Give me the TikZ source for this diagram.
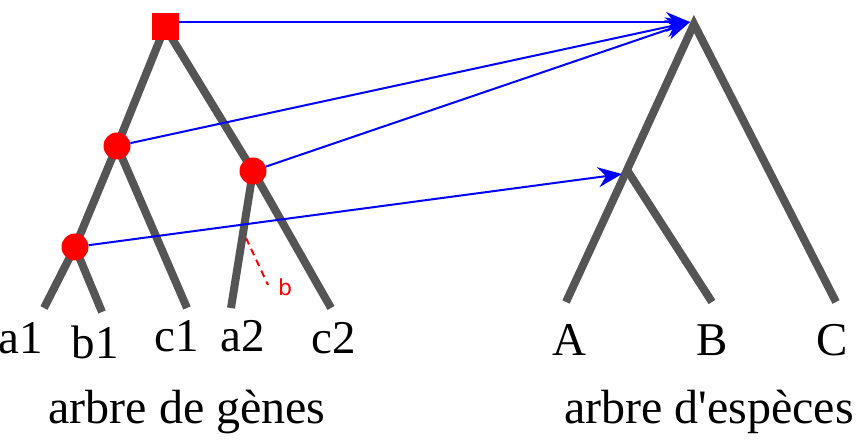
\documentclass[tikz,border=0pt]{standalone}
\usepackage{fontspec}
\setmainfont{Liberation Serif}[Ligatures=TeXOff]
\newfontfamily\labsans{DejaVu Sans}
\usetikzlibrary{arrows.meta}
\definecolor{branch}{RGB}{85,85,85}
\begin{document}
\begin{tikzpicture}[x=1pt,y=-1pt,
  branchline/.style={draw=branch,line width=8pt,line join=miter},
  mapline/.style={draw=blue,line width=2pt,-{Stealth[length=24pt,width=20pt,inset=8pt]}},
  dupnode/.style={circle,fill=red,minimum size=27pt,inner sep=0pt},
  specnode/.style={rectangle,fill=red,minimum size=27pt,inner sep=0pt},
  leaflab/.style={anchor=base,inner sep=0pt,font=\fontsize{47}{50}\selectfont},
  titlelab/.style={anchor=base,inner sep=0pt,font=\fontsize{48}{52}\selectfont}]
\useasboundingbox (0,0) rectangle (856,443);
% gene tree points
\coordinate (gr) at (165,27);
\coordinate (gl) at (117,146);
\coordinate (grr) at (253,171);
\coordinate (gll) at (75,247);
\coordinate (la1) at (44,308);
\coordinate (lb1) at (102,312);
\coordinate (lc1) at (187,308);
\coordinate (la2) at (231,308);
\coordinate (lc2) at (331,308);
% species tree points
\coordinate (sr) at (694,24);
\coordinate (si) at (627,170);
\coordinate (sA) at (566,302);
\coordinate (sB) at (712,302);
\coordinate (sC) at (836,302);
\coordinate (tgt) at (690,22);
\coordinate (tgt2) at (622,174);
% gene tree branches
\draw[branchline] (la1) -- (gll) -- (gl) -- (gr) -- (grr) -- (lc2);
\draw[branchline] (gll) -- (lb1);
\draw[branchline] (gl) -- (lc1);
\draw[branchline] (grr) -- (la2);
% species tree branches
\draw[branchline] (sA) -- (si) -- (sr) -- (sC);
\draw[branchline] (si) -- (sB);
% transfer hint
\coordinate (bs) at (246,238);
\coordinate (be) at (268,285);
\draw[red,line width=2pt,dash pattern=on 7pt off 5pt] (bs) -- (be);
\node[text=red,font=\labsans\fontsize{22}{24}\selectfont,inner sep=0pt] (blab) at (285,287) {b};
% nodes
\node[specnode] (nr) at (gr) {};
\node[dupnode] (nl) at (gl) {};
\node[dupnode] (nrr) at (grr) {};
\node[dupnode] (nll) at (gll) {};
% mapping arrows
\draw[mapline] (nr.east |- tgt) -- (tgt);
\draw[mapline] (nl) -- (tgt);
\draw[mapline] (nrr) -- (tgt);
\draw[mapline] (nll) -- (tgt2);
% labels
\node[leaflab] (ta1) at (21,353) {a1};
\node[leaflab] (tb1) at (95,358) {b1};
\node[leaflab] (tc1) at (177,352) {c1};
\node[leaflab] (ta2) at (243,352) {a2};
\node[leaflab] (tc2) at (334,353) {c2};
\node[leaflab] (tA) at (569,355) {A};
\node[leaflab] (tB) at (712,355) {B};
\node[leaflab] (tC) at (832,355) {C};
\node[titlelab] (tg) at (187,423) {arbre de gènes};
\node[titlelab] (ts) at (709,423) {arbre d'espèces};
\end{tikzpicture}
\end{document}
